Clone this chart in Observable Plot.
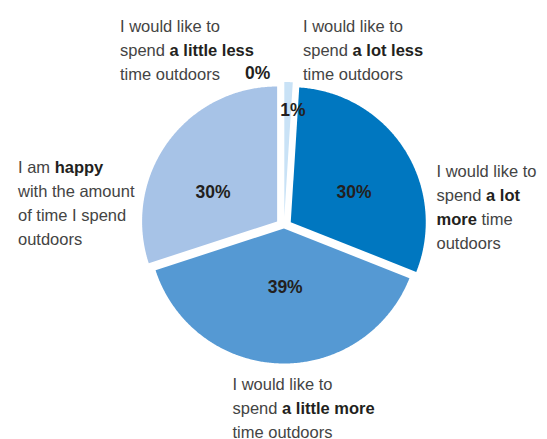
<!DOCTYPE html>
<html><head><meta charset="utf-8">
<script src="https://cdn.jsdelivr.net/npm/d3@7"></script>
<script src="https://cdn.jsdelivr.net/npm/@observablehq/plot@0.6"></script>
<style>
body{margin:0;background:#fff;}
#wrap{position:relative;width:547px;height:439px;overflow:hidden;font-family:"Liberation Sans",Arial,Helvetica,sans-serif;}
#wrap svg{position:absolute;left:0;top:0;}
.lab{position:absolute;font-size:16.5px;line-height:24px;color:#444;white-space:nowrap;}
.lab b{color:#231f20;}
</style></head><body><div id="wrap"></div>
<script>
// ---- data ----
const categories = ["a lot less", "a lot more", "a little more", "happy", "a little less"];
const values = [1, 30, 39, 30, 0];
const valueLabels = ["1%", "30%", "39%", "30%", "0%"];
const labelLines = [
  ["I would like to", "spend <b>a lot less</b>", "time outdoors"],
  ["I would like to", "spend <b>a lot</b>", "<b>more</b> time", "outdoors"],
  ["I would like to", "spend <b>a little more</b>", "time outdoors"],
  ["I am <b>happy</b>", "with the amount", "of time I spend", "outdoors"],
  ["I would like to", "spend <b>a little less</b>", "time outdoors"]
];

// ---- layout / style ----
const colors = ["#c9e2f6", "#0077c0", "#5599d3", "#a7c3e7", "#dcebf8"];
const explode = [9.5, 8, 2, 8.5, 0];          // px offset of each slice
const labelNudge = [2.6, 6.2, -2.9, -10.1, -9.8]; // degrees
const labelRadius = [0.862, 0.579, 0.448, 0.585, 1.15];
const labelBoxes = [[303, 14.3], [436.5, 159.3], [232.5, 371.5], [18, 155.3], [120, 14.3]];

const W = 547, H = 439, cx = 283.5, cy = 226, R = 135;

const arcs = d3.pie().sort(null).startAngle(0).endAngle(2 * Math.PI)(values);

const points = [];
arcs.forEach((a, i) => {
  if (a.endAngle - a.startAngle <= 0) return;
  const mid = (a.startAngle + a.endAngle) / 2;
  const ox = explode[i] / R * Math.sin(mid), oy = explode[i] / R * Math.cos(mid);
  points.push({key: categories[i], color: colors[i], x: ox, y: oy});
  const n = Math.max(2, Math.ceil((a.endAngle - a.startAngle) / (Math.PI / 360)));
  for (let k = 0; k <= n; k++) {
    const t = a.startAngle + (a.endAngle - a.startAngle) * k / n;
    points.push({key: categories[i], color: colors[i], x: ox + Math.sin(t), y: oy + Math.cos(t)});
  }
});

const labels = arcs.map((a, i) => {
  const ang = (a.startAngle + a.endAngle) / 2 + labelNudge[i] * Math.PI / 180;
  return {text: valueLabels[i], x: labelRadius[i] * Math.sin(ang), y: labelRadius[i] * Math.cos(ang)};
});

const chart = Plot.plot({
  width: W, height: H, margin: 0,
  x: {domain: [-cx / R, (W - cx) / R], axis: null},
  y: {domain: [-(H - cy) / R, cy / R], axis: null},
  color: {type: "identity"},
  style: {fontFamily: "'Liberation Sans', Arial, sans-serif", background: "#fff"},
  marks: [
    Plot.line(points, {x: "x", y: "y", z: "key", fill: "color", stroke: null, curve: "linear-closed"}),
    Plot.text(labels, {x: "x", y: "y", text: "text", fontWeight: "bold", fontSize: 17.5, fill: "#231f20"})
  ]
});

const wrap = document.getElementById("wrap");
wrap.appendChild(chart);
labelLines.forEach((lines, i) => {
  const d = document.createElement("div");
  d.className = "lab";
  d.style.left = labelBoxes[i][0] + "px";
  d.style.top = labelBoxes[i][1] + "px";
  d.innerHTML = lines.join("<br>");
  wrap.appendChild(d);
});
</script></body></html>
